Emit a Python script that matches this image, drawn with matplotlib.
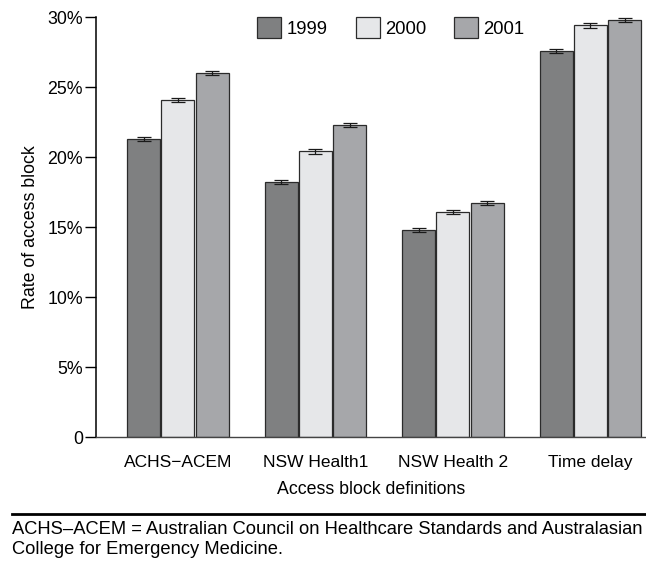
import matplotlib
matplotlib.use("Agg")
import matplotlib.pyplot as plt
from matplotlib.patches import Patch
from matplotlib.ticker import FuncFormatter
import numpy as np

plt.rcParams['font.family'] = ['Liberation Sans', 'DejaVu Sans']

categories = ["ACHS\u2212ACEM", "NSW Health1", "NSW Health 2", "Time delay"]
years = ["1999", "2000", "2001"]
rate_1999 = [21.3, 18.2, 14.8, 27.6]
rate_2000 = [24.1, 20.4, 16.1, 29.4]
rate_2001 = [26.0, 22.3, 16.7, 29.8]
err_1999 = [0.15, 0.15, 0.15, 0.15]
err_2000 = [0.15, 0.15, 0.15, 0.15]
err_2001 = [0.15, 0.15, 0.15, 0.15]
y_ticks = [0, 5, 10, 15, 20, 25, 30]

colors = ["#7f8081", "#e6e7e9", "#a6a7aa"]
edge = "#2b2b2b"

fig = plt.figure(figsize=(6.46, 5.63), dpi=100)
ax = fig.add_axes([96 / 646, 1 - 437 / 563, 550 / 646, 420 / 563])

x = np.arange(len(categories))
slot = 0.25
width = 0.24
series = [(rate_1999, err_1999), (rate_2000, err_2000), (rate_2001, err_2001)]
for i, ((vals, errs), col) in enumerate(zip(series, colors)):
    pos = x + (i - 1) * slot
    ax.bar(pos, vals, width=width, color=col, edgecolor=edge, linewidth=0.9, zorder=2)
    ax.errorbar(pos, vals, yerr=errs, fmt='none', ecolor='#1a1a1a',
                elinewidth=0.9, capsize=4.8, capthick=0.9, zorder=3)

ax.set_xlim(-0.596, 3.404)
ax.set_ylim(0, 30)
ax.set_yticks(y_ticks)
ax.yaxis.set_major_formatter(FuncFormatter(lambda v, p: "0" if v == 0 else f"{v:.0f}%"))
ax.set_xticks(x)
ax.set_xticklabels(categories)
ax.tick_params(axis='y', direction='out', length=8, width=1.0, labelsize=12.8, pad=1.5)
ax.tick_params(axis='x', length=0, labelsize=12.5, pad=13)

for s in ['top', 'right']:
    ax.spines[s].set_visible(False)
ax.spines['left'].set_linewidth(1.1)
ax.spines['bottom'].set_linewidth(1.0)
ax.spines['bottom'].set_color('#444444')

ax.set_ylabel("Rate of access block", fontsize=12.8, labelpad=6)
ax.set_xlabel("Access block definitions", fontsize=12.8, labelpad=8)

handles = [Patch(facecolor=c, edgecolor=edge, linewidth=0.9) for c in colors]
fig.legend(handles, years, loc='upper center', bbox_to_anchor=(391 / 646, 1 - 10 / 563),
           ncol=3, frameon=False, fontsize=13.3, handlelength=1.3, handleheight=1.3,
           handletextpad=0.3, columnspacing=1.5, borderaxespad=0)

# footnote separator and text
fig.add_artist(plt.Line2D([12 / 646, 1.0], [1 - 514 / 563] * 2, color='black',
                          linewidth=2.0, transform=fig.transFigure))
fig.text(12 / 646, 1 - 530 / 563,
         "ACHS\u2013ACEM = Australian Council on Healthcare Standards and Australasian",
         fontsize=13.2, va='center', ha='left')
fig.text(12 / 646, 1 - 549 / 563, "College for Emergency Medicine.",
         fontsize=13.2, va='center', ha='left')

fig.savefig("out.png", dpi=100)
